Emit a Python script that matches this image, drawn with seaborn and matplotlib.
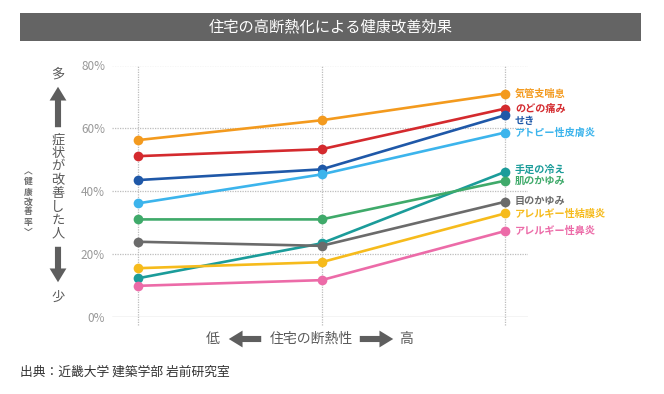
import matplotlib
matplotlib.use("Agg")
import matplotlib.pyplot as plt
import seaborn as sns
import pandas as pd
import numpy as np

# ---- data ----
positions = [0, 1, 2]  # 住宅の断熱性: 低 → 高
series_names = ["気管支喘息", "のどの痛み", "せき", "アトピー性皮膚炎", "手足の冷え",
                "肌のかゆみ", "目のかゆみ", "アレルギー性結膜炎", "アレルギー性鼻炎"]
asthma = [56.3, 62.6, 71.1]
throat = [51.2, 53.4, 66.3]
cough = [43.6, 47.0, 64.2]
atopy = [36.2, 45.4, 58.7]
cold_limbs = [12.4, 23.5, 46.2]
skin_itch = [31.1, 31.1, 43.4]
eye_itch = [24.0, 22.7, 36.7]
conjunctivitis = [15.6, 17.5, 33.0]
rhinitis = [10.0, 11.8, 27.4]
values = [asthma, throat, cough, atopy, cold_limbs, skin_itch, eye_itch,
          conjunctivitis, rhinitis]
colors = ["#F39A1E", "#D42A2E", "#1F58A8", "#3CB4EC", "#1B9C9A",
          "#3FAA6A", "#6B6B6B", "#F6BB1C", "#EC6BA8"]
label_y_px = [94, 109, 121, 133, 170, 181, 201, 214, 231]
yticks = [0, 20, 40, 60, 80]
ytick_labels = ["0%", "20%", "40%", "60%", "80%"]

rows = []
for name, vals in zip(series_names, values):
    for p, v in zip(positions, vals):
        rows.append({"series": name, "x": p, "value": v})
df = pd.DataFrame(rows)

sns.set_theme(style="white")
plt.rcParams['font.family'] = ['Noto Sans CJK JP', 'DejaVu Sans']

W, H = 664, 394
fig = plt.figure(figsize=(W / 100, H / 100), dpi=100)
fig.patch.set_facecolor("white")

# axes placement in pixels
x0, x1 = 112, 528
ytop, ybot = 65.5, 317.3
ax = fig.add_axes([x0 / W, 1 - ybot / H, (x1 - x0) / W, (ybot - ytop) / H])
ax.set_facecolor("white")

# horizontal grid
for t in yticks:
    if t == 0:
        ax.axhline(t, color="#C8C8C8", lw=1.0, ls="-", zorder=1)
    else:
        ax.axhline(t, color="#BDBDBD", lw=0.9, ls=(0, (1, 1)), zorder=1)
for p in positions:
    ax.plot([p, p], [-2.5, 80], color="#BDBDBD", lw=0.9, ls=(0, (1, 1)),
            zorder=1, clip_on=False)

sns.lineplot(data=df, x="x", y="value", hue="series", hue_order=series_names,
             palette=colors, marker="o", markersize=7, markeredgewidth=0,
             linewidth=1.9, legend=False, ax=ax, zorder=3)

ax.set_xlim(-26 / 183.5, 2 + 23 / 183.5)
ax.set_ylim(0, 80)
ax.set_xticks([])
ax.set_yticks(yticks)
ax.set_yticklabels(ytick_labels, color="#999999", fontsize=8.5)
ax.tick_params(axis="y", length=0, pad=5)
ax.set_xlabel("")
ax.set_ylabel("")
for s in ax.spines.values():
    s.set_visible(False)

# series labels on right
for name, c, ypx in zip(series_names, colors, label_y_px):
    fig.text(515 / W, 1 - ypx / H, name, color=c, fontsize=7.3,
             fontweight="bold", ha="left", va="center")

# title banner
fig.patches.append(plt.Rectangle((20 / W, 1 - 41 / H), (641 - 20) / W, 28 / H,
                                 transform=fig.transFigure, facecolor="#646464",
                                 edgecolor="none", zorder=0))
fig.text(331 / W, 1 - 27 / H, "住宅の高断熱化による健康改善効果", color="white",
         fontsize=11, ha="center", va="center")

# left vertical annotation
grey = "#5A5A5A"
fig.text(58 / W, 1 - 74 / H, "多", color=grey, fontsize=9.5, ha="center", va="center")
fig.text(58 / W, 1 - 297 / H, "少", color=grey, fontsize=9.5, ha="center", va="center")
vchars = "症状が改善した人"
for i, ch in enumerate(vchars):
    y = 140 + i * 13.4
    fig.text(58 / W, 1 - y / H, ch, color=grey, fontsize=9.5, ha="center", va="center")
arrow_style = "simple,head_length=0.9,head_width=1.1,tail_width=0.4"
fig.add_artist(matplotlib.patches.FancyArrowPatch(
    (58, H - 130), (58, H - 84), transform=None, arrowstyle=arrow_style,
    mutation_scale=11, color="#5E5E5E", lw=0))
fig.add_artist(matplotlib.patches.FancyArrowPatch(
    (58, H - 244), (58, H - 285), transform=None, arrowstyle=arrow_style,
    mutation_scale=11, color="#5E5E5E", lw=0))
small = "︿健康改善率﹀"
for i, ch in enumerate(small):
    y = 172 + i * 10.0
    fig.text(28 / W, 1 - y / H, ch, color="#6E6E6E", fontsize=6.3, ha="center",
             va="center", fontweight="bold")

# x-axis label with arrows
fig.text(213 / W, 1 - 339 / H, "低", color=grey, fontsize=10, ha="center", va="center")
fig.text(311 / W, 1 - 339 / H, "住宅の断熱性", color=grey, fontsize=10, ha="center", va="center")
fig.text(406 / W, 1 - 339 / H, "高", color=grey, fontsize=10, ha="center", va="center")
fig.add_artist(matplotlib.patches.FancyArrowPatch(
    (264, H - 339), (226, H - 339), transform=None, arrowstyle=arrow_style,
    mutation_scale=11, color="#5E5E5E", lw=0))
fig.add_artist(matplotlib.patches.FancyArrowPatch(
    (357, H - 339), (396, H - 339), transform=None, arrowstyle=arrow_style,
    mutation_scale=11, color="#5E5E5E", lw=0))

# source
fig.text(20 / W, 1 - 372 / H, "出典：近畿大学 建築学部 岩前研究室", color="#333333",
         fontsize=9.2, ha="left", va="center")

fig.savefig("out.png", dpi=100, facecolor="white")
